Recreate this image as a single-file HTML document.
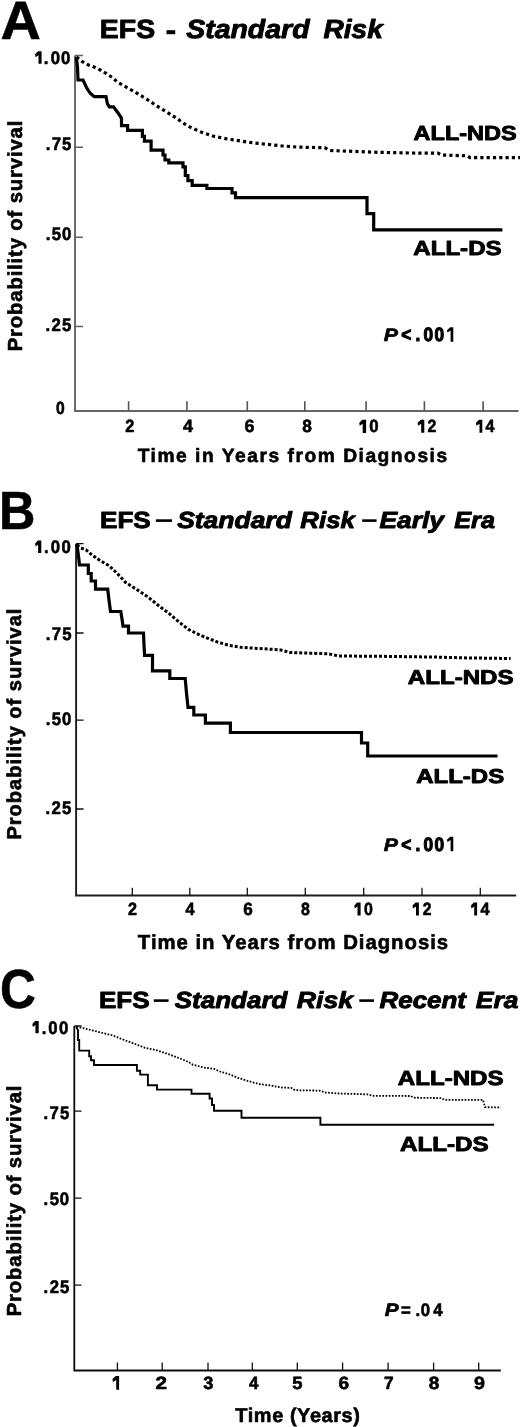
<!DOCTYPE html>
<html><head><meta charset="utf-8"><style>
html,body{margin:0;padding:0;background:#fff;width:520px;height:1427px;overflow:hidden}
svg{display:block;will-change:transform}
text{opacity:0.999}
text{font-family:"Liberation Sans",sans-serif;font-weight:bold;fill:#000;stroke:#000;stroke-width:0.6px;stroke-linejoin:round;text-rendering:geometricPrecision}
text.r{stroke-width:1.1px}
text.h{stroke-width:0.9px}
</style></head><body>
<svg width="520" height="1427" viewBox="0 0 520 1427">
<rect width="520" height="1427" fill="#fff"/>
<!-- dashes -->
<rect x="166.5" y="30.2" width="8.7" height="4"/>
<rect x="155.9" y="519.3" width="16.1" height="2.6"/>
<rect x="362.2" y="519.3" width="14.4" height="2.6"/>
<rect x="153.8" y="999.3" width="14.8" height="2.6"/>
<rect x="359.3" y="999.3" width="14.7" height="2.6"/>
<!-- Panel A axes -->
<path d="M75,55.6 V411" fill="none" stroke="#6a6a6a" stroke-width="2"/>
<path d="M74,410.9 H518.5" fill="none" stroke="#666" stroke-width="2"/>
<path d="M75,55.6 H83 M75,147.3 H83 M75,237.3 H83 M75,326.4 H83" stroke="#606060" stroke-width="1.5"/>
<path d="M128.6,410.9 V401.2 M186.9,410.9 V401.2 M247.3,410.9 V401.2 M304.8,410.9 V401.2 M366.1,410.9 V401.2 M424.4,410.9 V401.2 M483.1,410.9 V401.2" stroke="#555" stroke-width="1.6"/>
<!-- Panel A curves -->
<path d="M76.3,57 L77.5,67 L78,80 H83 L86.7,88 L90.2,93.3 L94.2,96.7 H106 L107.5,104 L109.4,106.8 H113.5 L117.5,112.2 L120.2,116.2 L121.5,118.3 V125.7 H127.6 V130.4 H142.4 V136.4 H144.4 V141.1 H151.1 V150.2 H163 V155 H165 V160 H168.8 V162.8 H183 V166.8 H185.3 V175.5 H187.9 V180.7 H192.2 V185.3 H206.9 V188.5 H232 V192.8 H235.5 V197.6 H367 V213.7 H373.7 V229.8 H502.4" fill="none" stroke="#000" stroke-width="3.2"/>
<path d="M76.5,57 L82,61.5 L88.5,65 L94.8,67.3 L100.7,70.2 L106.5,73.7 L112.3,77.5 L117.3,82.1 L123.1,85.2 L128.8,88.7 L135,92 L147,99.4 L160,108 L173.5,116.2 L187,125.6 L200.4,131.8 L213.8,136.3 L227.3,139 L240.8,141 L254.2,143 L267.7,144.4 L281.2,145.8 L297.3,147.1 L324.6,147.7 L330,150.5 L359.2,151.6 L377.7,152.3 L410,153 L438,153.2 L441,155 L467,155.8 L470,157.6 L520,157.6" fill="none" stroke="#000" stroke-width="3.2" stroke-dasharray="3.2 3.1"/>
<!-- Panel B axes -->
<path d="M76.1,543.7 V895.5 H516.2" fill="none" stroke="#1c1c1c" stroke-width="1.9"/>
<path d="M76,543.7 H83.6 M76,633 H83.6 M76,720.2 H83.6 M76,809 H83.6" stroke="#111" stroke-width="1.3"/>
<path d="M132.3,895.5 V887.8 M189.8,895.5 V887.8 M247.3,895.5 V887.8 M305.3,895.5 V887.8 M363.7,895.5 V887.8 M422,895.5 V887.8 M480.3,895.5 V887.8" stroke="#111" stroke-width="1.3"/>
<!-- Panel B curves -->
<path d="M76.8,544 L78.5,556 L79.5,565 H88.3 V573.5 H91.2 V581 H95.5 V589.2 H107.7 L109,600 L110.5,611.5 H120.8 L122,619 L123,626.2 H128.5 V633 H143.5 L144,645 L144.6,655.4 H152.5 V670.8 H169.8 V678.5 H185.2 L186.5,693 L188,707.3 H193.8 V715 H205.4 V723.1 H230.4 V732.5 H361.5 V743 H367.7 V756 H497.5" fill="none" stroke="#000" stroke-width="3.2"/>
<path d="M77,545 L81,548 L86,549.8 L91.5,554.6 L99.2,560 L108.5,565.4 L116.9,573 L125.4,582.3 L136.2,589.2 L146.9,596.2 L154.6,602.3 L160,606.9 L167.7,612.3 L175.4,619 L181.2,623.8 L188.8,629.6 L198.5,634.4 L208,638.3 L217.7,642.1 L229.2,645.4 L240.8,647.3 L250,647.9 L279.6,649.8 L290.4,652.5 L328,653.8 L338.9,656 L380,656.3 L436.5,657.1 L466.2,657.9 L510.6,658.5" fill="none" stroke="#000" stroke-width="3" stroke-dasharray="3 2"/>
<!-- Panel C axes -->
<path d="M74.3,1026 V1370.5 H500.8" fill="none" stroke="#0c0c0c" stroke-width="1.8"/>
<path d="M74.3,1026 H81.5 M74.3,1111.2 H81.5 M74.3,1198.2 H81.5 M74.3,1285.2 H81.5" stroke="#111" stroke-width="1.3"/>
<path d="M117.4,1370.5 V1362.4 M162.2,1370.5 V1362.4 M208,1370.5 V1362.4 M252.3,1370.5 V1362.4 M297.3,1370.5 V1362.4 M342.6,1370.5 V1362.4 M388.1,1370.5 V1362.4 M433.6,1370.5 V1362.4 M478.7,1370.5 V1362.4" stroke="#111" stroke-width="1.3"/>
<!-- Panel C curves -->
<path d="M76.2,1027 L78,1030 V1040 H79.2 V1050.6 H89.2 V1056.3 H91 V1060.2 H94 V1065 H136.9 V1070.8 H140.2 V1074.6 H147.9 V1085.2 H157 V1089.6 H191.5 V1093.8 H209.6 V1098.5 H212 V1105 H214 V1110.8 H241.5 V1117.7 H320.4 V1124.7 H494" fill="none" stroke="#000" stroke-width="1.9"/>
<path d="M76.5,1026.5 L93.2,1030.6 L102.8,1033 L112.5,1035.4 L122,1039.2 L131.7,1042.7 L145.2,1047.9 L154.8,1049.8 L164.4,1052.7 L174,1056.2 L181.5,1059 L188.5,1062 L193,1064.8 L204.6,1067.7 L213.8,1068.8 L220,1071.5 L229.6,1074.4 L239.2,1078.3 L248.8,1081.2 L258.5,1084 L270,1085.4 L281.5,1087.5 L291.2,1087.9 L295,1090.2 L319.6,1090.6 L325.4,1092.5 L338.8,1093.5 L367.7,1094.4 L373.5,1095.8 L410.6,1096 L413.8,1097.7 L441.3,1098.1 L444.4,1099.8 L483,1099.8 L485,1107.2 L500.8,1107.4" fill="none" stroke="#000" stroke-width="1.8" stroke-dasharray="1.7 1.5"/>
<text id="A_lbl" x="0.43" y="38.89" font-size="53.96" textLength="40.36" lengthAdjust="spacingAndGlyphs">A</text>
<text id="A_t1" x="99.84" y="38.20" font-size="26.30" class="h" textLength="55.31" lengthAdjust="spacingAndGlyphs">EFS</text>
<text id="A_t3" x="186.16" y="38.20" font-size="26.30" font-style="italic" class="h" textLength="123.40" lengthAdjust="spacingAndGlyphs">Standard</text>
<text id="A_t4" x="323.53" y="38.20" font-size="26.30" font-style="italic" class="h" textLength="59.31" lengthAdjust="spacingAndGlyphs">Risk</text>
<text id="A_y1" transform="scale(0.92,1)" x="47.55 55.13 66.32" y="63.60" font-size="18.20">.00</text>
<text id="A_y2" transform="scale(0.92,1)" x="49.81 56.24 67.44" y="150.08" font-size="18.20">.75</text>
<text id="A_y3" transform="scale(0.92,1)" x="49.63 56.28 67.43" y="240.39" font-size="18.20">.50</text>
<text id="A_y4" transform="scale(0.92,1)" x="49.52 56.10 67.48" y="330.90" font-size="18.20">.25</text>
<text id="A_y5" x="55.96" y="414.49" font-size="17.66" textLength="8.72" lengthAdjust="spacingAndGlyphs">0</text>
<text id="A_x2" x="125.33" y="432.46" font-size="17.66" textLength="9.05" lengthAdjust="spacingAndGlyphs">2</text>
<text id="A_x4" x="182.94" y="432.46" font-size="17.66" textLength="9.97" lengthAdjust="spacingAndGlyphs">4</text>
<text id="A_x6" x="244.48" y="432.46" font-size="17.66" textLength="9.95" lengthAdjust="spacingAndGlyphs">6</text>
<text id="A_x8" x="302.13" y="432.46" font-size="17.66" textLength="9.60" lengthAdjust="spacingAndGlyphs">8</text>
<text id="A_x10" x="369.25" y="432.46" font-size="17.66" textLength="9.33" lengthAdjust="spacingAndGlyphs">0</text>
<text id="A_x12" x="427.55" y="432.46" font-size="17.66" textLength="8.82" lengthAdjust="spacingAndGlyphs">2</text>
<text id="A_x14" x="485.53" y="432.46" font-size="17.66" textLength="8.97" lengthAdjust="spacingAndGlyphs">4</text>
<text id="A_xt" x="137.63" y="461.76" font-size="19.22" textLength="309.51" lengthAdjust="spacing">Time in Years from Diagnosis</text>
<text id="A_yt" transform="translate(21.50,351.34) rotate(-90)" font-size="20.31" textLength="230.64" lengthAdjust="spacing">Probability of survival</text>
<text id="A_nds" x="413.56" y="139.53" font-size="20.29" class="h" textLength="103.20" lengthAdjust="spacingAndGlyphs">ALL-NDS</text>
<text id="A_ds" x="413.30" y="254.60" font-size="20.29" class="h" textLength="88.32" lengthAdjust="spacingAndGlyphs">ALL-DS</text>
<text id="A_pP" x="383.72" y="340.75" font-size="17.98" font-style="italic" textLength="14.24" lengthAdjust="spacingAndGlyphs">P</text>
<text id="A_pr" transform="scale(0.9,1)" x="445.95 461.81 470.59 482.70" y="340.75" font-size="19.20" font-weight="normal" class="r">&lt;.00</text>
<text id="B_lbl" x="-1.11" y="528.94" font-size="53.71" textLength="36.42" lengthAdjust="spacingAndGlyphs">B</text>
<text id="B_t1" x="99.98" y="528.40" font-size="23.20" class="h" textLength="50.85" lengthAdjust="spacingAndGlyphs">EFS</text>
<text id="B_t3" x="177.15" y="528.40" font-size="23.20" font-style="italic" class="h" textLength="114.69" lengthAdjust="spacingAndGlyphs">Standard</text>
<text id="B_t4" x="300.36" y="528.40" font-size="23.20" font-style="italic" class="h" textLength="54.60" lengthAdjust="spacingAndGlyphs">Risk</text>
<text id="B_t6" x="379.47" y="528.40" font-size="23.20" font-style="italic" class="h" textLength="64.56" lengthAdjust="spacingAndGlyphs">Early</text>
<text id="B_t7" x="454.25" y="528.40" font-size="23.20" font-style="italic" class="h" textLength="40.67" lengthAdjust="spacingAndGlyphs">Era</text>
<text id="B_y1" transform="scale(0.92,1)" x="47.95 55.09 66.94" y="553.40" font-size="18.20">.00</text>
<text id="B_y2" transform="scale(0.92,1)" x="49.81 56.24 67.55" y="639.70" font-size="18.20">.75</text>
<text id="B_y3" transform="scale(0.92,1)" x="49.60 56.25 67.29" y="725.30" font-size="18.20">.50</text>
<text id="B_y4" transform="scale(0.92,1)" x="49.49 56.07 67.34" y="814.12" font-size="18.20">.25</text>
<text id="B_x2" x="128.03" y="915.16" font-size="17.66" textLength="8.99" lengthAdjust="spacingAndGlyphs">2</text>
<text id="B_x4" x="185.39" y="915.16" font-size="17.66" textLength="9.06" lengthAdjust="spacingAndGlyphs">4</text>
<text id="B_x6" x="243.26" y="915.16" font-size="17.66" textLength="9.48" lengthAdjust="spacingAndGlyphs">6</text>
<text id="B_x8" x="300.92" y="915.16" font-size="17.66" textLength="8.87" lengthAdjust="spacingAndGlyphs">8</text>
<text id="B_x10" x="363.93" y="915.16" font-size="17.66" textLength="8.86" lengthAdjust="spacingAndGlyphs">0</text>
<text id="B_x12" x="422.75" y="915.16" font-size="17.66" textLength="8.72" lengthAdjust="spacingAndGlyphs">2</text>
<text id="B_x14" x="480.43" y="915.16" font-size="17.66" textLength="9.09" lengthAdjust="spacingAndGlyphs">4</text>
<text id="B_xt" x="137.87" y="949.06" font-size="20.33" textLength="310.24" lengthAdjust="spacing">Time in Years from Diagnosis</text>
<text id="B_yt" transform="translate(21.06,839.50) rotate(-90)" font-size="20.09" textLength="230.92" lengthAdjust="spacing">Probability of survival</text>
<text id="B_nds" x="407.84" y="684.16" font-size="20.03" class="h" textLength="105.75" lengthAdjust="spacingAndGlyphs">ALL-NDS</text>
<text id="B_ds" x="416.19" y="782.86" font-size="20.03" class="h" textLength="87.97" lengthAdjust="spacingAndGlyphs">ALL-DS</text>
<text id="B_pP" x="383.75" y="850.74" font-size="18.11" font-style="italic" textLength="14.21" lengthAdjust="spacingAndGlyphs">P</text>
<text id="B_pr" transform="scale(0.9,1)" x="445.95 461.81 470.59 482.70" y="850.74" font-size="19.20" font-weight="normal" class="r">&lt;.00</text>
<text id="C_lbl" x="0.10" y="1008.26" font-size="55.20" textLength="35.84" lengthAdjust="spacingAndGlyphs">C</text>
<text id="C_t1" x="98.92" y="1007.80" font-size="23.20" class="h" textLength="50.77" lengthAdjust="spacingAndGlyphs">EFS</text>
<text id="C_t3" x="174.80" y="1007.80" font-size="23.20" font-style="italic" class="h" textLength="112.56" lengthAdjust="spacingAndGlyphs">Standard</text>
<text id="C_t4" x="296.85" y="1007.80" font-size="23.20" font-style="italic" class="h" textLength="56.32" lengthAdjust="spacingAndGlyphs">Risk</text>
<text id="C_t6" x="379.49" y="1007.80" font-size="23.20" font-style="italic" class="h" textLength="86.51" lengthAdjust="spacingAndGlyphs">Recent</text>
<text id="C_t7" x="475.88" y="1007.80" font-size="23.20" font-style="italic" class="h" textLength="42.65" lengthAdjust="spacingAndGlyphs">Era</text>
<text id="C_y1" transform="scale(0.92,1)" x="45.25 52.40 64.25" y="1033.55" font-size="18.20">.00</text>
<text id="C_y2" transform="scale(0.92,1)" x="47.18 53.94 65.14" y="1118.83" font-size="18.20">.75</text>
<text id="C_y3" transform="scale(0.92,1)" x="47.18 54.05 65.09" y="1205.00" font-size="18.20">.50</text>
<text id="C_y4" transform="scale(0.92,1)" x="47.18 53.98 65.25" y="1292.60" font-size="18.20">.25</text>
<text id="C_x2" x="155.64" y="1388.84" font-size="17.66" textLength="11.50" lengthAdjust="spacingAndGlyphs">2</text>
<text id="C_x3" x="203.23" y="1388.84" font-size="17.66" textLength="10.12" lengthAdjust="spacingAndGlyphs">3</text>
<text id="C_x4" x="248.91" y="1388.84" font-size="17.66" textLength="9.51" lengthAdjust="spacingAndGlyphs">4</text>
<text id="C_x5" x="292.25" y="1388.84" font-size="17.66" textLength="10.21" lengthAdjust="spacingAndGlyphs">5</text>
<text id="C_x6" x="338.61" y="1388.84" font-size="17.66" textLength="10.58" lengthAdjust="spacingAndGlyphs">6</text>
<text id="C_x7" x="384.07" y="1388.84" font-size="17.66" textLength="9.58" lengthAdjust="spacingAndGlyphs">7</text>
<text id="C_x8" x="428.88" y="1388.84" font-size="17.66" textLength="10.60" lengthAdjust="spacingAndGlyphs">8</text>
<text id="C_x9" x="473.91" y="1388.84" font-size="17.66" textLength="10.96" lengthAdjust="spacingAndGlyphs">9</text>
<text id="C_xt" x="235.37" y="1422.10" font-size="19.96" textLength="124.43" lengthAdjust="spacing">Time (Years)</text>
<text id="C_yt" transform="translate(20.97,1316.28) rotate(-90)" font-size="20.30" textLength="230.68" lengthAdjust="spacing">Probability of survival</text>
<text id="C_nds" x="397.83" y="1084.84" font-size="20.51" class="h" textLength="105.76" lengthAdjust="spacingAndGlyphs">ALL-NDS</text>
<text id="C_ds" x="400.09" y="1151.24" font-size="20.51" class="h" textLength="88.56" lengthAdjust="spacingAndGlyphs">ALL-DS</text>
<text id="C_pP" x="384.69" y="1316.42" font-size="18.02" font-style="italic" textLength="13.91" lengthAdjust="spacingAndGlyphs">P</text>
<text id="C_pr" transform="scale(0.92,1)" x="436.01 451.62 457.24 470.95" y="1316.42" font-size="18.20">=.04</text>
<path d="M38.10,51.25 H41.60 V63.65 H38.50 V55.25 L35.55,57.25 L35.05,54.19 Z" fill="#000"/>
<path d="M37.70,540.45 H41.30 V553.05 H38.10 V544.45 L35.65,546.45 L35.15,543.39 Z" fill="#000"/>
<path d="M35.00,1020.95 H38.70 V1033.25 H35.40 V1024.95 L32.85,1026.95 L32.35,1023.89 Z" fill="#000"/>
<path d="M362.30,419.75 H366.10 V432.95 H362.70 V423.75 L359.75,425.75 L359.25,422.69 Z" fill="#000"/>
<path d="M420.80,419.75 H424.30 V432.65 H421.20 V423.75 L418.05,425.75 L417.55,422.69 Z" fill="#000"/>
<path d="M479.10,419.75 H482.30 V432.65 H479.50 V423.75 L476.45,425.75 L475.95,422.69 Z" fill="#000"/>
<path d="M357.10,902.55 H360.60 V915.45 H357.50 V906.55 L354.75,908.55 L354.25,905.49 Z" fill="#000"/>
<path d="M415.60,902.55 H418.90 V915.45 H416.00 V906.55 L412.95,908.55 L412.45,905.49 Z" fill="#000"/>
<path d="M473.80,902.55 H477.10 V915.45 H474.20 V906.55 L471.45,908.55 L470.95,905.49 Z" fill="#000"/>
<path d="M115.80,1375.95 H119.10 V1389.85 H116.20 V1379.95 L112.95,1381.95 L112.45,1378.89 Z" fill="#000"/>
<path d="M450.20,327.35 H453.30 V341.85 H450.60 V330.55 L447.45,332.55 L446.95,330.21 Z" fill="#000"/>
<path d="M450.20,836.85 H453.30 V851.35 H450.60 V840.05 L447.45,842.05 L446.95,839.71 Z" fill="#000"/>
</svg>
</body></html>
